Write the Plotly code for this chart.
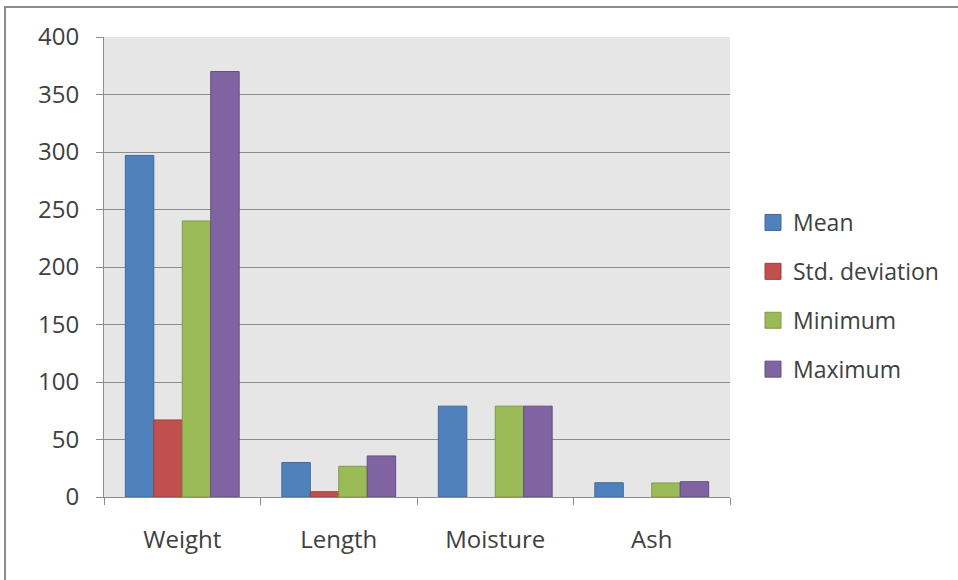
import plotly.graph_objects as go

# Summary statistics per measured property
categories = ["Weight", "Length", "Moisture", "Ash"]
mean_vals = [297, 30, 79, 12.4]
std_vals = [67, 4.6, 0, 0]
min_vals = [240, 26.7, 79, 12.2]
max_vals = [370, 35.7, 79, 13.3]

series = [
    ("Mean", mean_vals, "#4F81BD", "#3f6a9c"),
    ("Std. deviation", std_vals, "#C0504D", "#9c3f3c"),
    ("Minimum", min_vals, "#9BBB59", "#7d9a45"),
    ("Maximum", max_vals, "#8064A2", "#654e82"),
]

W, H = 958, 580
L, R, T, B = 104, 730, 37, 497

fig = go.Figure()
for name, vals, color, edge in series:
    # no outline on empty bars
    widths = [1 if v > 0 else 0 for v in vals]
    fig.add_trace(go.Bar(
        x=categories, y=vals, name=name, legendgroup=name, showlegend=False,
        marker=dict(color=color, line=dict(color=edge, width=widths)),
    ))
# square swatches for the legend
for name, vals, color, edge in series:
    fig.add_trace(go.Scatter(
        x=[None], y=[None], mode="markers", name=name, legendgroup=name,
        marker=dict(symbol="square", size=16, color=color,
                    line=dict(color=edge, width=1)),
    ))


def px_x(x):
    return (x - L) / (R - L)


def px_y(y):
    return (B - y) / (B - T)


# outer chart border
fig.add_shape(type="rect", xref="paper", yref="paper",
              x0=px_x(5), x1=px_x(1010), y0=px_y(7), y1=px_y(620),
              line=dict(color="#8c8c8c", width=2), fillcolor="rgba(0,0,0,0)",
              layer="below")

text_color = "#404040"
font_family = "Open Sans, Liberation Sans, sans-serif"

fig.update_layout(
    width=W, height=H,
    margin=dict(l=L, r=W - R, t=T, b=H - B),
    paper_bgcolor="white",
    plot_bgcolor="#e6e6e6",
    barmode="group",
    bargap=1.5 / 5.5,
    bargroupgap=0,
    font=dict(family=font_family, size=24, color=text_color),
    showlegend=True,
    legend=dict(
        x=px_x(753), y=px_y(201), xanchor="left", yanchor="top",
        traceorder="grouped", tracegroupgap=16,
        font=dict(size=23, color=text_color),
        bgcolor="rgba(0,0,0,0)", itemwidth=30,
    ),
    xaxis=dict(
        type="category",
        tickson="boundaries",
        ticks="outside", ticklen=7, tickcolor="#8c8c8c",
        showline=True, linecolor="#8c8c8c", linewidth=1,
        showgrid=False,
        ticklabelstandoff=21,
        tickfont=dict(size=24, color=text_color),
    ),
    yaxis=dict(
        range=[0, 400], dtick=50,
        ticks="outside", ticklen=7, tickcolor="#8c8c8c",
        showline=True, linecolor="#8c8c8c", linewidth=1,
        showgrid=True, gridcolor="#8c8c8c", gridwidth=1,
        zeroline=False,
        ticklabelstandoff=12,
        tickfont=dict(size=24, color=text_color),
    ),
)

fig.write_html("out.html")
